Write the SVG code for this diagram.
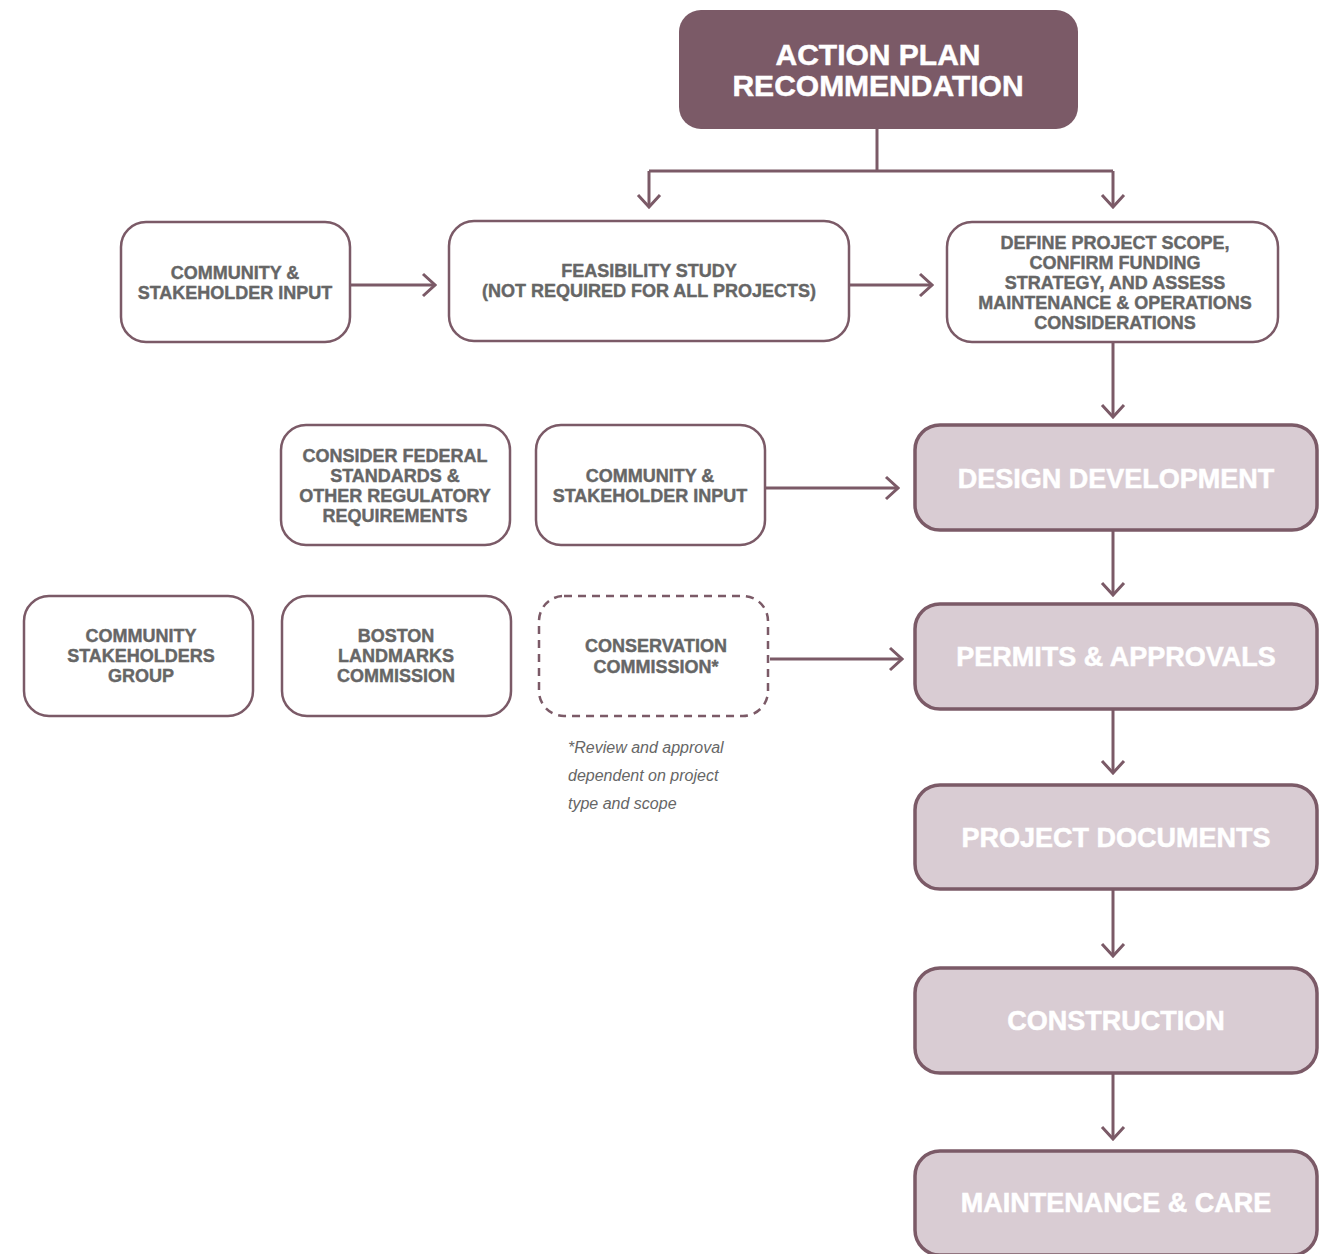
<svg xmlns="http://www.w3.org/2000/svg" width="1333" height="1254" viewBox="0 0 1333 1254">
<style>
.w{fill:#ffffff;stroke:#7b5a67;stroke-width:2.5}
.d{fill:#ffffff;stroke:#7b5a67;stroke-width:2.5;stroke-dasharray:8 6}
.s{fill:#d9ccd3;stroke:#7b5a67;stroke-width:3.5}
.t{font-family:"Liberation Sans",Arial,sans-serif;font-weight:bold;font-size:18px;fill:#666666;stroke:#666666;stroke-width:0.4;text-anchor:middle}
.st{font-family:"Liberation Sans",Arial,sans-serif;font-weight:bold;font-size:27px;fill:#ffffff;stroke:#ffffff;stroke-width:0.5;text-anchor:middle}
.top{font-family:"Liberation Sans",Arial,sans-serif;font-weight:bold;font-size:30px;fill:#ffffff;stroke:#ffffff;stroke-width:0.5;text-anchor:middle}
.n{font-family:"Liberation Sans",Arial,sans-serif;font-style:italic;font-size:16px;fill:#666666}
.c{fill:none;stroke:#7b5a67;stroke-width:3}
</style>
<defs>
<marker id="ah" markerUnits="userSpaceOnUse" viewBox="-14 -13 16 26" refX="0" refY="0" markerWidth="16" markerHeight="26" orient="auto">
<path d="M-12,-11 L0,0 L-12,11" fill="none" stroke="#7b5a67" stroke-width="3"/>
</marker>
</defs>
<g id="connectors">
<path class="c" d="M877,129 V171"/>
<path class="c" d="M649,171 H1113"/>
<path class="c" d="M649,171 V207" marker-end="url(#ah)"/>
<path class="c" d="M1113,171 V207" marker-end="url(#ah)"/>
<path class="c" d="M350,285 H435" marker-end="url(#ah)"/>
<path class="c" d="M849,285 H932" marker-end="url(#ah)"/>
<path class="c" d="M1113,342 V417" marker-end="url(#ah)"/>
<path class="c" d="M765,488 H898" marker-end="url(#ah)"/>
<path class="c" d="M1113,530 V595" marker-end="url(#ah)"/>
<path class="c" d="M770,659 H902" marker-end="url(#ah)"/>
<path class="c" d="M1113,709 V773" marker-end="url(#ah)"/>
<path class="c" d="M1113,889 V956" marker-end="url(#ah)"/>
<path class="c" d="M1113,1073 V1139" marker-end="url(#ah)"/>
</g>
<g id="action-plan">
<rect x="679" y="10" width="399" height="119" rx="22" fill="#7b5a67"/>
<text class="top" x="878" y="65">ACTION PLAN</text>
<text class="top" x="878" y="96">RECOMMENDATION</text>
</g>
<g id="community-input-1">
<rect class="w" x="121" y="222" width="229" height="120" rx="25"/>
<text class="t" x="235" y="279">COMMUNITY &amp;</text>
<text class="t" x="235" y="299">STAKEHOLDER INPUT</text>
</g>
<g id="feasibility">
<rect class="w" x="449" y="221" width="400" height="120" rx="25"/>
<text class="t" x="649" y="277">FEASIBILITY STUDY</text>
<text class="t" x="649" y="297">(NOT REQUIRED FOR ALL PROJECTS)</text>
</g>
<g id="define-scope">
<rect class="w" x="947" y="222" width="331" height="120" rx="25"/>
<text class="t" x="1115" y="249">DEFINE PROJECT SCOPE,</text>
<text class="t" x="1115" y="269">CONFIRM FUNDING</text>
<text class="t" x="1115" y="289">STRATEGY, AND ASSESS</text>
<text class="t" x="1115" y="309">MAINTENANCE &amp; OPERATIONS</text>
<text class="t" x="1115" y="329">CONSIDERATIONS</text>
</g>
<g id="federal-standards">
<rect class="w" x="281" y="425" width="229" height="120" rx="25"/>
<text class="t" x="395" y="462">CONSIDER FEDERAL</text>
<text class="t" x="395" y="482">STANDARDS &amp;</text>
<text class="t" x="395" y="502">OTHER REGULATORY</text>
<text class="t" x="395" y="522">REQUIREMENTS</text>
</g>
<g id="community-input-2">
<rect class="w" x="536" y="425" width="229" height="120" rx="25"/>
<text class="t" x="650" y="482">COMMUNITY &amp;</text>
<text class="t" x="650" y="502">STAKEHOLDER INPUT</text>
</g>
<g id="design-development">
<rect class="s" x="915" y="425" width="402" height="105" rx="25"/>
<text class="st" x="1116" y="488">DESIGN DEVELOPMENT</text>
</g>
<g id="stakeholders-group">
<rect class="w" x="24" y="596" width="229" height="120" rx="25"/>
<text class="t" x="141" y="642">COMMUNITY</text>
<text class="t" x="141" y="662">STAKEHOLDERS</text>
<text class="t" x="141" y="682">GROUP</text>
</g>
<g id="boston-landmarks">
<rect class="w" x="282" y="596" width="229" height="120" rx="25"/>
<text class="t" x="396" y="642">BOSTON</text>
<text class="t" x="396" y="662">LANDMARKS</text>
<text class="t" x="396" y="682">COMMISSION</text>
</g>
<g id="conservation">
<rect class="d" x="539" y="596" width="229" height="120" rx="25"/>
<text class="t" x="656" y="652">CONSERVATION</text>
<text class="t" x="656" y="673">COMMISSION*</text>
</g>
<g id="note">
<text class="n" x="568" y="753">*Review and approval</text>
<text class="n" x="568" y="781">dependent on project</text>
<text class="n" x="568" y="809">type and scope</text>
</g>
<g id="permits">
<rect class="s" x="915" y="604" width="402" height="105" rx="25"/>
<text class="st" x="1116" y="666">PERMITS &amp; APPROVALS</text>
</g>
<g id="project-documents">
<rect class="s" x="915" y="785" width="402" height="104" rx="25"/>
<text class="st" x="1116" y="847">PROJECT DOCUMENTS</text>
</g>
<g id="construction">
<rect class="s" x="915" y="968" width="402" height="105" rx="25"/>
<text class="st" x="1116" y="1030">CONSTRUCTION</text>
</g>
<g id="maintenance">
<rect class="s" x="915" y="1151" width="402" height="104" rx="25"/>
<text class="st" x="1116" y="1212">MAINTENANCE &amp; CARE</text>
</g>
</svg>
